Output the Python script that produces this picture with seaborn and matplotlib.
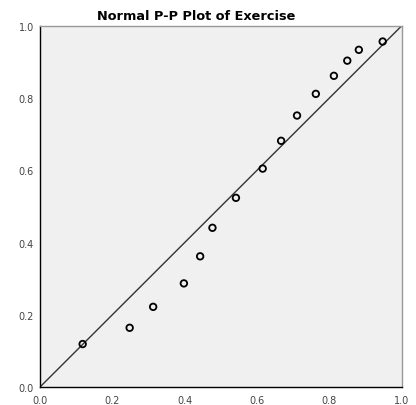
import matplotlib
matplotlib.use("Agg")
import matplotlib.pyplot as plt
import seaborn as sns
import pandas as pd

observed_cum_prob = [0.118, 0.248, 0.313, 0.398, 0.443, 0.477, 0.542, 0.616,
                     0.667, 0.711, 0.763, 0.813, 0.850, 0.882, 0.948]
expected_cum_prob = [0.119, 0.164, 0.222, 0.287, 0.362, 0.441, 0.524, 0.605,
                     0.682, 0.752, 0.812, 0.862, 0.904, 0.934, 0.957]
ticks = [0.0, 0.2, 0.4, 0.6, 0.8, 1.0]
tick_labels = ["0.0", "0.2", "0.4", "0.6", "0.8", "1.0"]
title = "Normal P-P Plot of Exercise"

df = pd.DataFrame({"obs": observed_cum_prob, "exp": expected_cum_prob})

sns.set_style("white")
plt.rcParams['font.family'] = ['DejaVu Sans']

fig = plt.figure(figsize=(4.16, 4.06), dpi=100)
ax = fig.add_axes([40/416, 18/406, 361.5/416, 361/406])
ax.set_facecolor("#f0f0f0")

ax.plot([0, 1], [0, 1], color="#333333", lw=1.0, zorder=2)
sns.scatterplot(data=df, x="obs", y="exp", ax=ax, marker="o", s=22,
                facecolor="none", edgecolor="black", linewidth=1.3, zorder=3)

ax.set_xlim(0, 1)
ax.set_ylim(0, 1)
ax.set_xticks(ticks)
ax.set_xticklabels(tick_labels)
ax.set_yticks(ticks)
ax.set_yticklabels(tick_labels)
ax.tick_params(axis="both", labelsize=7, labelcolor="#444444", length=3.5,
               width=1, color="black", direction="out", pad=1)
ax.tick_params(axis="x", pad=2)
ax.set_xlabel("")
ax.set_ylabel("")
for side in ["left", "bottom"]:
    ax.spines[side].set_color("black")
    ax.spines[side].set_linewidth(1.0)
for side in ["top", "right"]:
    ax.spines[side].set_color("#999999")
    ax.spines[side].set_linewidth(1.0)
    ax.spines[side].set_visible(True)

ax.set_title(title, fontsize=9.3, fontweight="bold", color="black",
             x=0.432, pad=5)

fig.savefig("out.png", dpi=100)
